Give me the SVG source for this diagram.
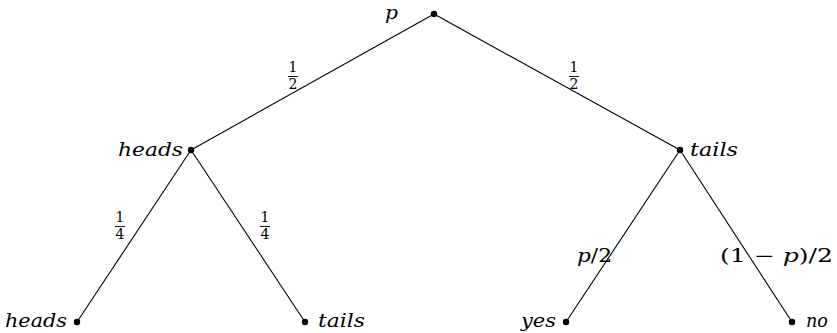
<svg xmlns="http://www.w3.org/2000/svg" width="837" height="333" viewBox="0 0 837 333">
<style>
.e{stroke:#000;stroke-width:1.1;fill:none}
.d{fill:#000}
.t{font-family:"DejaVu Serif","Liberation Serif",serif;font-style:italic;font-size:18px;fill:#000}
.f{font-family:"DejaVu Serif","Liberation Serif",serif;font-size:14px;fill:#000;text-anchor:middle}
.m{font-family:"DejaVu Serif","Liberation Serif",serif;font-size:18px;fill:#000}
.b{stroke:#000;stroke-width:0.9}
</style>
<rect width="837" height="333" fill="#fff"/>
<g id="connectors">
<line class="e" x1="434" y1="14" x2="191" y2="150"/>
<line class="e" x1="434" y1="14" x2="680" y2="150"/>
<line class="e" x1="191" y1="150" x2="77" y2="322"/>
<line class="e" x1="191" y1="150" x2="305" y2="322"/>
<line class="e" x1="680" y1="150" x2="566" y2="322"/>
<line class="e" x1="680" y1="150" x2="792" y2="322"/>
<g id="l1"><text class="f" x="293" y="72">1</text><line class="b" x1="288" y1="76.5" x2="298" y2="76.5"/><text class="f" x="293" y="89">2</text></g>
<g id="l2"><text class="f" x="574" y="72">1</text><line class="b" x1="569" y1="76.5" x2="579" y2="76.5"/><text class="f" x="574" y="89">2</text></g>
<g id="l3"><text class="f" x="120" y="222">1</text><line class="b" x1="115" y1="226.5" x2="125" y2="226.5"/><text class="f" x="120" y="239">4</text></g>
<g id="l4"><text class="f" x="265" y="222">1</text><line class="b" x1="260" y1="226.5" x2="270" y2="226.5"/><text class="f" x="265" y="239">4</text></g>
<text class="m" x="577" y="262" textLength="35" lengthAdjust="spacingAndGlyphs"><tspan font-style="italic">p</tspan>/2</text>
<text class="m" x="720" y="262" textLength="113" lengthAdjust="spacingAndGlyphs">(1 − <tspan font-style="italic">p</tspan>)/2</text>
</g>
<g id="root"><circle class="d" cx="434" cy="14" r="3.2"/><text class="t" x="385" y="19" textLength="13" lengthAdjust="spacingAndGlyphs">p</text></g>
<g id="heads"><circle class="d" cx="191" cy="150" r="3.2"/><text class="t" x="118" y="156" textLength="65" lengthAdjust="spacingAndGlyphs">heads</text></g>
<g id="tails"><circle class="d" cx="680" cy="150" r="3.2"/><text class="t" x="690" y="156" textLength="48" lengthAdjust="spacingAndGlyphs">tails</text></g>
<g id="heads2"><circle class="d" cx="77" cy="322" r="3.2"/><text class="t" x="5" y="327" textLength="62" lengthAdjust="spacingAndGlyphs">heads</text></g>
<g id="tails2"><circle class="d" cx="305" cy="322" r="3.2"/><text class="t" x="318" y="327" textLength="47" lengthAdjust="spacingAndGlyphs">tails</text></g>
<g id="yes"><circle class="d" cx="566" cy="322" r="3.2"/><text class="t" x="521" y="327" textLength="35" lengthAdjust="spacingAndGlyphs">yes</text></g>
<g id="no"><circle class="d" cx="792" cy="322" r="3.2"/><text class="t" x="806" y="327" textLength="22" lengthAdjust="spacingAndGlyphs">no</text></g>
</svg>
